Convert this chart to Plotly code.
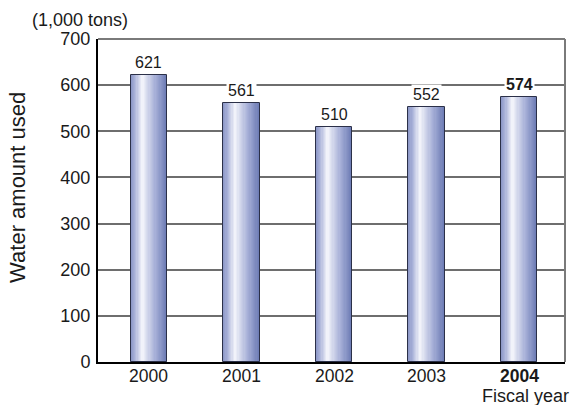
import plotly.graph_objects as go

# Annual water usage, in thousands of tons
years = ["2000", "2001", "2002", "2003", "2004"]
water = [621, 561, 510, 552, 574]
highlight_year = "2004"

FONT = "Liberation Sans, Arial, sans-serif"
positions = list(range(len(years)))
bar_width = 0.39

# Horizontal shading across each bar (fraction across, rgb)
stops = [
    (0.00, (0x8a, 0x95, 0xc6)),
    (0.12, (0xa8, 0xb1, 0xd8)),
    (0.33, (0xf6, 0xf7, 0xfc)),
    (0.45, (0xd8, 0xdc, 0xee)),
    (0.70, (0xa4, 0xad, 0xd6)),
    (1.00, (0x6c, 0x7b, 0xb4)),
]


def shade(t):
    for (t0, c0), (t1, c1) in zip(stops[:-1], stops[1:]):
        if t0 <= t <= t1:
            k = (t - t0) / (t1 - t0)
            r, g, b = (round(a + (bb - a) * k) for a, bb in zip(c0, c1))
            return f"rgb({r},{g},{b})"
    return "rgb(108,123,180)"


def mark(label, yr):
    return f"<b>{label}</b>" if yr == highlight_year else str(label)


fig = go.Figure()

n_slices = 30
slice_w = bar_width / n_slices
for i in range(n_slices):
    fig.add_trace(go.Bar(
        x=positions, y=water,
        width=slice_w * 1.15,
        offset=-bar_width / 2 + i * slice_w,
        marker=dict(color=shade((i + 0.5) / n_slices), line=dict(width=0)),
        hoverinfo="skip", showlegend=False,
    ))

# Bar outlines
fig.add_trace(go.Bar(
    x=positions, y=water, width=bar_width,
    marker=dict(color="rgba(0,0,0,0)", line=dict(color="#2b3048", width=1)),
    hoverinfo="skip", showlegend=False,
))

# Value labels above each bar
for x, v, yr in zip(positions, water, years):
    fig.add_annotation(
        x=x, y=v, xref="x", yref="y", text=mark(v, yr), showarrow=False,
        yanchor="bottom", yshift=2, bgcolor="white", borderpad=1,
        font=dict(family=FONT, size=16, color="#1a1a1a"),
    )

# Category labels under the axis
for x, yr in zip(positions, years):
    fig.add_annotation(
        x=x, y=0, xref="x", yref="paper", text=mark(yr, yr), showarrow=False,
        yanchor="middle", yshift=-14, borderpad=0,
        font=dict(family=FONT, size=17.5, color="#1a1a1a"),
    )

fig.update_layout(
    width=583, height=405,
    margin=dict(l=98, r=18, t=39, b=43),
    paper_bgcolor="white", plot_bgcolor="white",
    barmode="overlay", bargap=0,
    font=dict(family=FONT, size=18, color="#1a1a1a"),
    xaxis=dict(
        range=[-0.551, 4.497], tickvals=positions, showticklabels=False,
        showgrid=False, zeroline=False, showline=True,
        linecolor="black", linewidth=2, ticks="",
    ),
    yaxis=dict(
        range=[0, 700], dtick=100, showgrid=True,
        gridcolor="#6e6e6e", gridwidth=1.5, zeroline=False,
        showline=True, linecolor="black", linewidth=2, ticks="",
        ticklabelstandoff=2,
        tickfont=dict(family=FONT, size=18, color="#1a1a1a"),
    ),
    shapes=[
        dict(type="line", xref="paper", yref="paper", x0=0, x1=1, y0=1, y1=1,
             line=dict(color="#7a7a7a", width=2)),
        dict(type="line", xref="paper", yref="paper", x0=1, x1=1, y0=0, y1=1,
             line=dict(color="#7a7a7a", width=2)),
    ],
)

fig.add_annotation(
    xref="paper", yref="paper", x=-0.1713, y=0.539, text="Water amount used",
    textangle=-90, showarrow=False, xanchor="center", yanchor="middle",
    font=dict(family=FONT, size=22, color="#1a1a1a"),
)
fig.add_annotation(
    xref="paper", yref="paper", x=-0.0385, y=1.0, yshift=19, text="(1,000 tons)",
    showarrow=False, xanchor="center", yanchor="middle", borderpad=0,
    font=dict(family=FONT, size=18, color="#1a1a1a"),
)
fig.add_annotation(
    xref="x", yref="paper", x=4, y=0, yshift=-34, xshift=6, text="Fiscal year",
    showarrow=False, xanchor="center", yanchor="middle", borderpad=0,
    font=dict(family=FONT, size=18, color="#1a1a1a"),
)

fig.write_html("out.html")
